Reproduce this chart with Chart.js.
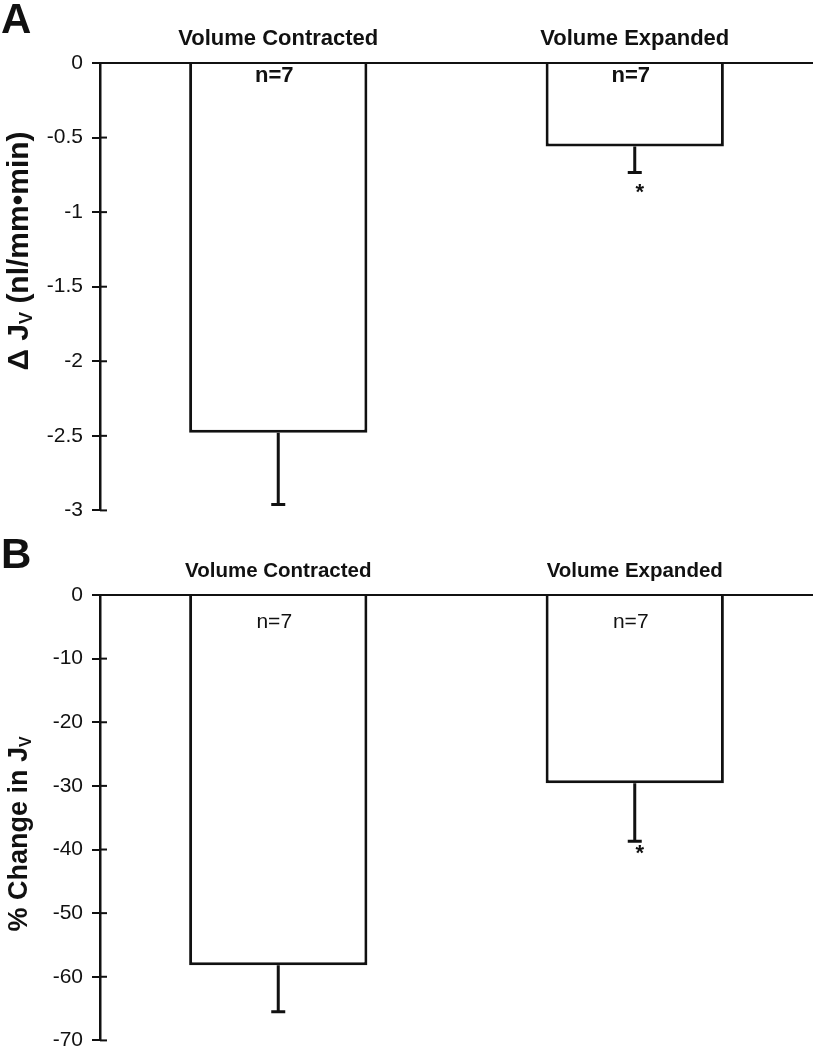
<!doctype html>
<html lang="en">
<head>
<meta charset="utf-8" />
<title>Delta Jv</title>
<script src="https://cdn.jsdelivr.net/npm/chart.js@4.4.1/dist/chart.umd.min.js"></script>
<style>
    body { margin: 0; background: #fff; overflow: hidden; }
    #wrap { position: relative; width: 813px; height: 1050px; overflow: hidden; }
    #wrap canvas { position: absolute; left: 0; display: block; }
</style>
</head>
<body>
<div id="wrap">
    <canvas id="chartA" width="813" height="532" style="top:0"></canvas>
    <canvas id="chartB" width="813" height="537" style="top:525px"></canvas>
</div>
<script>
// dati
const categories = ['Volume Contracted', 'Volume Expanded'];
const deltaJv = [-2.48, -0.56];
const deltaJvSE = [0.48, 0.175];
const pctJv = [-58.2, -29.6];
const pctJvSE = [7.3, 9.1];
const nLabels = ['n=7', 'n=7'];
const sigMarks = ['', '*'];
const axisA = {min: -3, max: 0, step: 0.5};
const axisB = {min: -70, max: 0, step: 10};

const INK = '#111';
const FONT = "'Liberation Sans', Arial, sans-serif";

// plugin per: error bar, etichette n=7, asterischi, lettera pannello e titolo asse y
function makeExtras(cfg) {
    return {
        id: 'extras',
        afterDraw(chart) {
            const ctx = chart.ctx;
            const meta = chart.getDatasetMeta(0);
            const y = chart.scales.y;
            const area = chart.chartArea;
            ctx.save();
            ctx.strokeStyle = INK;
            ctx.fillStyle = INK;

            // mezza tacca interna
            ctx.lineWidth = 2;
            y.ticks.forEach((t, i) => {
                const py = y.getPixelForTick(i);
                ctx.beginPath();
                ctx.moveTo(area.left, py);
                ctx.lineTo(area.left + 7, py);
                ctx.stroke();
            });

            ctx.textAlign = 'center';
            ctx.textBaseline = 'middle';
            meta.data.forEach((bar, i) => {
                const low = y.getPixelForValue(cfg.values[i] - cfg.se[i]);
                ctx.lineWidth = 3;
                ctx.beginPath();
                ctx.moveTo(bar.x, bar.y);
                ctx.lineTo(bar.x, low);
                ctx.moveTo(bar.x - 7, low);
                ctx.lineTo(bar.x + 7, low);
                ctx.stroke();

                ctx.font = cfg.nFont;
                ctx.fillText(nLabels[i], bar.x - 4, area.top + cfg.nOffset);

                if (sigMarks[i]) {
                    ctx.font = 'bold 22px ' + FONT;
                    ctx.fillText(sigMarks[i], bar.x + 5, low + cfg.starOffset);
                }
            });

            // lettera pannello
            ctx.textAlign = 'left';
            ctx.textBaseline = 'alphabetic';
            ctx.font = 'bold 42px ' + FONT;
            ctx.fillText(cfg.letter, 1, cfg.letterBase);

            // titolo asse y con pedice
            const widths = cfg.title.map(p => {
                ctx.font = 'bold ' + p.size + 'px ' + FONT;
                return ctx.measureText(p.text).width;
            });
            const total = widths.reduce((a, b) => a + b, 0);
            ctx.translate(cfg.titleX, cfg.titleY);
            ctx.rotate(-Math.PI / 2);
            let x = -total / 2;
            cfg.title.forEach((p, i) => {
                ctx.font = 'bold ' + p.size + 'px ' + FONT;
                ctx.fillText(p.text, x, p.shift || 0);
                x += widths[i];
            });
            ctx.restore();
        }
    };
}

function makeChart(id, values, axis, xHeight, labelSize, cfg) {
    return new Chart(document.getElementById(id), {
        type: 'bar',
        data: {
            labels: categories,
            datasets: [{
                data: values,
                backgroundColor: '#fff',
                borderColor: INK,
                borderWidth: 3,
                borderSkipped: 'start',
                barPercentage: 0.5,
                categoryPercentage: 1
            }]
        },
        options: {
            responsive: false,
            animation: false,
            devicePixelRatio: 1,
            layout: {padding: 0},
            scales: {
                x: {
                    position: 'top',
                    grid: {display: false},
                    border: {display: true, color: INK, width: 2},
                    ticks: {
                        color: INK,
                        font: {size: labelSize, weight: 'bold', family: FONT},
                        padding: 3,
                        maxRotation: 0,
                        autoSkip: false
                    },
                    afterFit(scale) { scale.height = xHeight; }
                },
                y: {
                    min: axis.min,
                    max: axis.max,
                    ticks: {
                        stepSize: axis.step,
                        color: INK,
                        font: {size: 21, family: FONT},
                        padding: 9,
                        callback: v => String(v)
                    },
                    grid: {
                        display: true,
                        drawOnChartArea: false,
                        drawTicks: true,
                        tickLength: 8,
                        color: INK,
                        lineWidth: 2
                    },
                    border: {display: true, color: INK, width: 2.5},
                    afterFit(scale) { scale.width = 100; }
                }
            },
            plugins: {
                legend: {display: false},
                tooltip: {enabled: false}
            }
        },
        plugins: [makeExtras(Object.assign({values: values}, cfg))]
    });
}

makeChart('chartA', deltaJv, axisA, 63, 22, {
    se: deltaJvSE,
    letter: 'A',
    letterBase: 33,
    nFont: 'bold 22px ' + FONT,
    nOffset: 13,
    starOffset: 20,
    titleX: 28,
    titleY: 251,
    title: [
        {text: '\u0394 J', size: 30},
        {text: 'V', size: 18, shift: 4},
        {text: ' (nl/mm\u2022min)', size: 30}
    ]
});

makeChart('chartB', pctJv, axisB, 70, 20.5, {
    se: pctJvSE,
    letter: 'B',
    letterBase: 43,
    nFont: '21px ' + FONT,
    nOffset: 27,
    starOffset: 13,
    titleX: 27,
    titleY: 309,
    title: [
        {text: '% Change in J', size: 27},
        {text: 'V', size: 16, shift: 4}
    ]
});
</script>
</body>
</html>
